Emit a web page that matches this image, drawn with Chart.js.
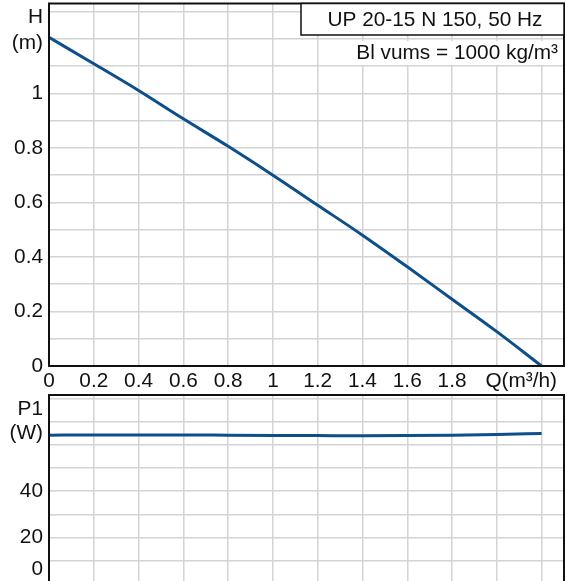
<!DOCTYPE html>
<html>
<head>
<meta charset="utf-8">
<script src="https://cdn.jsdelivr.net/npm/chart.js"></script>
<style>
html, body { margin: 0; padding: 0; width: 567px; height: 581px; overflow: hidden; background: #fff; }
canvas { position: absolute; left: 0; }
#grafico_h { top: 0; }
#grafico_p { top: 385px; }
</style>
</head>
<body>
<canvas id="grafico_h" width="567" height="395"></canvas>
<canvas id="grafico_p" width="567" height="210"></canvas>
<script>
// vazao (m3/h) e curvas
var vazao_q = [0, 0.2, 0.4, 0.6, 0.8, 1.0, 1.2, 1.4, 1.6, 1.8, 2.0, 2.2]
var altura_h = [1.206, 1.109, 1.011, 0.907, 0.806, 0.700, 0.590, 0.480, 0.364, 0.245, 0.126, 0]
var potencia_p1 = [64.3, 64.4, 64.4, 64.4, 64.3, 64.2, 64.1, 64.0, 64.1, 64.3, 64.6, 65.0]

var rotulos_q = [0, 0.2, 0.4, 0.6, 0.8, 1, 1.2, 1.4, 1.6, 1.8]
var rotulos_h = [0, 0.2, 0.4, 0.6, 0.8, 1]
var rotulos_p = [20, 40]

var titulo_bomba = 'UP 20-15 N 150, 50 Hz'
var texto_fluido = 'Bl vums = 1000 kg/m³'

var fonte = '"Liberation Sans", Arial, sans-serif'
var tamanho = 20.8
var cor_texto = '#111'
var cor_grade = '#d4d4d4'
var cor_curva = '#0d4f8b'

function pontos(xs, ys) {
    var lista = []
    for (var i = 0; i < xs.length; i++) {
        lista.push({ x: xs[i], y: ys[i] })
    }
    return lista
}

function rotulo(valor, lista) {
    for (var i = 0; i < lista.length; i++) {
        if (Math.abs(lista[i] - valor) < 1e-6) return String(lista[i])
    }
    return ''
}

function escrever(ctx, texto, x, y, alinhamento) {
    ctx.save()
    ctx.font = tamanho + 'px ' + fonte
    ctx.fillStyle = cor_texto
    ctx.textAlign = alinhamento
    ctx.textBaseline = 'middle'
    ctx.fillText(texto, x, y)
    ctx.restore()
}

function moldura(chart) {
    var a = chart.chartArea
    var ctx = chart.ctx
    ctx.save()
    ctx.strokeStyle = '#111'
    ctx.lineWidth = 2
    ctx.strokeRect(a.left, a.top, a.right - a.left, a.bottom - a.top)
    ctx.restore()
}

// sem folga extra dos rotulos, a area fica onde a margem manda
function semFolga(s) {
    s.paddingTop = 0
    s.paddingBottom = 0
    s.paddingLeft = 0
    s.paddingRight = 0
}

var extras_h = {
    id: 'extras_h',
    afterDraw: function (chart) {
        var ctx = chart.ctx
        moldura(chart)
        // caixa do titulo
        ctx.save()
        ctx.fillStyle = '#fff'
        ctx.fillRect(301, 3.5, 263, 31.5)
        ctx.strokeStyle = '#111'
        ctx.lineWidth = 1.5
        ctx.strokeRect(301, 3.5, 263, 31.5)
        ctx.fillRect(330, 41, 232, 24)
        ctx.restore()
        escrever(ctx, titulo_bomba, 435, 20, 'center')
        escrever(ctx, texto_fluido, 558, 53, 'right')
        escrever(ctx, 'H', 43, 17, 'right')
        escrever(ctx, '(m)', 43, 43, 'right')
        escrever(ctx, 'Q(m³/h)', 557, 381, 'right')
    }
}

var extras_p = {
    id: 'extras_p',
    afterDraw: function (chart) {
        var ctx = chart.ctx
        moldura(chart)
        escrever(ctx, 'P1', 43, 24, 'right')
        escrever(ctx, '(W)', 43, 48, 'right')
        escrever(ctx, '0', 43, 184, 'right')
    }
}

function eixo_x(mostrar, altura) {
    return {
        type: 'linear',
        min: 0,
        max: 2.3,
        afterFit: function (s) { s.height = altura; semFolga(s) },
        grid: { color: cor_grade, lineWidth: 1.5, drawTicks: false },
        border: { display: false },
        ticks: {
            display: mostrar,
            stepSize: 0.2,
            includeBounds: false,
            autoSkip: false,
            maxRotation: 0,
            padding: 3,
            color: cor_texto,
            font: { family: fonte, size: tamanho },
            callback: function (v) { return rotulo(v, rotulos_q) }
        }
    }
}

function eixo_y(maximo, passo, lista) {
    return {
        type: 'linear',
        min: 0,
        max: maximo,
        afterFit: function (s) { s.width = 49; semFolga(s) },
        grid: { color: cor_grade, lineWidth: 1.5, drawTicks: false },
        border: { display: false },
        ticks: {
            stepSize: passo,
            includeBounds: false,
            autoSkip: false,
            padding: 6,
            color: cor_texto,
            font: { family: fonte, size: tamanho },
            callback: function (v) { return rotulo(v, lista) }
        }
    }
}

function criarGrafico(idCanvas, dados, eixoX, eixoY, plugin, margem) {
    var contexto = document.getElementById(idCanvas).getContext('2d')
    return new Chart(contexto, {
        type: 'line',
        data: {
            datasets: [{
                data: dados,
                borderColor: cor_curva,
                borderWidth: 3,
                pointRadius: 0,
                fill: false,
                cubicInterpolationMode: 'monotone'
            }]
        },
        options: {
            responsive: false,
            animation: false,
            layout: { padding: margem },
            plugins: { legend: { display: false }, tooltip: { enabled: false } },
            scales: { x: eixoX, y: eixoY }
        },
        plugins: [plugin]
    })
}

criarGrafico('grafico_h', pontos(vazao_q, altura_h), eixo_x(true, 29), eixo_y(1.33, 0.1, rotulos_h),
    extras_h, { top: 3.5, right: 3, left: 0, bottom: 0 })
criarGrafico('grafico_p', pontos(vazao_q, potencia_p1), eixo_x(false, 11.5), eixo_y(81.7, 10, rotulos_p),
    extras_p, { top: 10, right: 3, left: 0, bottom: 0 })
</script>
</body>
</html>
